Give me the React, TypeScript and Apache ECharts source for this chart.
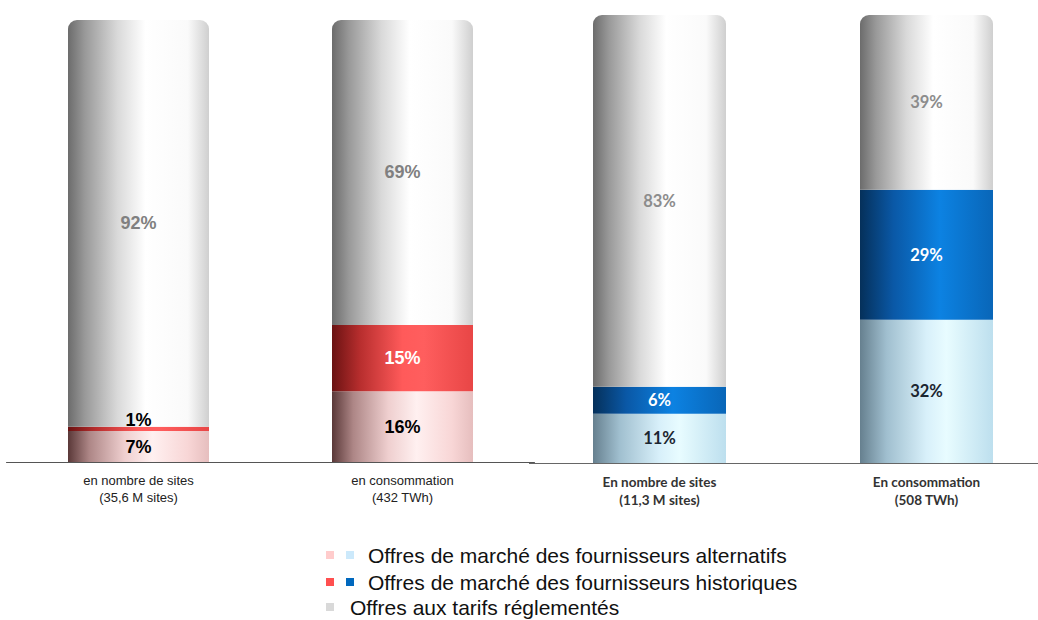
import React, { useEffect, useRef } from "react";
import * as echarts from "echarts";

const elecCategories = ["en nombre de sites\n(35,6 M sites)", "en consommation\n(432 TWh)"];
const gasCategories = ["En nombre de sites\n(11,3 M sites)", "En consommation\n(508 TWh)"];
const elecAlternatifs = [7, 16];
const elecHistoriques = [1, 15];
const elecReglementes = [92, 69];
const gasAlternatifs = [11, 32];
const gasHistoriques = [6, 29];
const gasReglementes = [83, 39];
const legendLabels = [
  "Offres de marché des fournisseurs alternatifs",
  "Offres de marché des fournisseurs historiques",
  "Offres aux tarifs réglementés",
];

const grad = (stops: [number, string][]) =>
  new echarts.graphic.LinearGradient(
    0, 0, 1, 0,
    stops.map(([offset, color]) => ({ offset, color }))
  );

const greyGrad = () =>
  grad([[0, "#6c6c6c"], [0.12, "#999999"], [0.35, "#d9d9d9"], [0.55, "#ffffff"], [0.85, "#fafafa"], [1, "#cfcfcf"]]);
const lightRedGrad = () =>
  grad([[0, "#5a3838"], [0.15, "#ad8686"], [0.4, "#efcfcf"], [0.6, "#fff0f0"], [0.85, "#f8d6d6"], [1, "#e6bebe"]]);
const redGrad = () =>
  grad([[0, "#6a1212"], [0.2, "#b82e2e"], [0.5, "#ff5a5a"], [0.65, "#ff5e5e"], [1, "#e84646"]]);
const darkBlueGrad = () =>
  grad([[0, "#05305a"], [0.25, "#0a58a6"], [0.6, "#0c82e2"], [1, "#0966b8"]]);
const lightBlueGrad = () =>
  grad([[0, "#66808f"], [0.2, "#a0bfcf"], [0.5, "#d8f0fa"], [0.65, "#e8fcff"], [1, "#bddfee"]]);

const leftLabel = (color: string) => ({
  show: true,
  position: "inside" as const,
  formatter: "{c}%",
  color,
  fontFamily: "Liberation Sans, Arial, sans-serif",
  fontWeight: "bold" as const,
  fontSize: 18,
});
const rightLabel = (color: string) => ({
  show: true,
  position: "inside" as const,
  formatter: "{c}%",
  color,
  fontFamily: "Lato, sans-serif",
  fontWeight: "bold" as const,
  fontSize: 16.5,
});

export default function App() {
  const ref = useRef<HTMLDivElement>(null);
  useEffect(() => {
    if (!ref.current) return;
    const chart = echarts.init(ref.current, null, { renderer: "svg" });

    const decor: any[] = [
      {
        type: "line",
        shape: { x1: 529, y1: 463.5, x2: 1038, y2: 463.5 },
        style: { stroke: "#666", lineWidth: 1 },
        z: -1,
      },
    ];
    const rowsY = [555, 582, 607];
    const rowColors = [["#ffcccc", "#cce9fb"], ["#ff4f4f", "#0068be"], ["#d9d9d9"]];
    rowsY.forEach((y, i) => {
      rowColors[i].forEach((c, j) => {
        decor.push({
          type: "rect",
          shape: { x: 326 + j * 20, y: y - 4, width: 8, height: 8 },
          style: { fill: c },
        });
      });
      decor.push({
        type: "text",
        x: i < 2 ? 368 : 350,
        y,
        style: {
          text: legendLabels[i],
          fill: "#111",
          font: "21px 'Liberation Sans', Arial, sans-serif",
          verticalAlign: "middle",
          align: "left",
        },
      });
    });

    const option: any = {
      animation: false,
      backgroundColor: "#ffffff",
      grid: [
        { left: 6.5, right: 503.5, top: 20, bottom: 158 },
        { left: 659.5, right: 111.5, top: 15, bottom: 157 },
      ],
      xAxis: [
        {
          type: "category",
          gridIndex: 0,
          data: elecCategories,
          axisLine: { show: true, lineStyle: { color: "#555", width: 1 } },
          axisTick: { show: false },
          axisLabel: {
            color: "#222",
            fontFamily: "Liberation Sans, Arial, sans-serif",
            fontSize: 13,
            lineHeight: 17,
            margin: 10,
          },
        },
        {
          type: "category",
          gridIndex: 1,
          boundaryGap: false,
          data: gasCategories,
          axisLine: { show: false },
          axisTick: { show: false },
          axisLabel: {
            color: "#333",
            fontFamily: "Lato, sans-serif",
            fontWeight: "bold",
            fontSize: 13.5,
            lineHeight: 18,
            margin: 10,
          },
        },
      ],
      yAxis: [
        { type: "value", gridIndex: 0, min: 0, max: 100, show: false },
        { type: "value", gridIndex: 1, min: 0, max: 100, show: false },
      ],
      series: [
        {
          name: "elec-alt",
          type: "bar",
          stack: "elec",
          xAxisIndex: 0,
          yAxisIndex: 0,
          barWidth: 141,
          data: elecAlternatifs,
          itemStyle: { color: lightRedGrad() },
          label: leftLabel("#000"),
        },
        {
          name: "elec-hist",
          type: "bar",
          stack: "elec",
          xAxisIndex: 0,
          yAxisIndex: 0,
          barWidth: 141,
          data: elecHistoriques.map((v, i) =>
            i === 0
              ? { value: v, label: { position: "top", distance: -2, color: "#000" } }
              : v
          ),
          itemStyle: { color: redGrad() },
          label: leftLabel("#fff"),
        },
        {
          name: "elec-reg",
          type: "bar",
          stack: "elec",
          xAxisIndex: 0,
          yAxisIndex: 0,
          barWidth: 141,
          data: elecReglementes,
          itemStyle: { color: greyGrad(), borderRadius: [9, 9, 0, 0] },
          label: leftLabel("#808080"),
        },
        {
          name: "gas-alt",
          type: "bar",
          stack: "gas",
          xAxisIndex: 1,
          yAxisIndex: 1,
          barWidth: 133,
          data: gasAlternatifs,
          itemStyle: { color: lightBlueGrad() },
          label: rightLabel("#1b2530"),
        },
        {
          name: "gas-hist",
          type: "bar",
          stack: "gas",
          xAxisIndex: 1,
          yAxisIndex: 1,
          barWidth: 133,
          data: gasHistoriques,
          itemStyle: { color: darkBlueGrad() },
          label: rightLabel("#ffffff"),
        },
        {
          name: "gas-reg",
          type: "bar",
          stack: "gas",
          xAxisIndex: 1,
          yAxisIndex: 1,
          barWidth: 133,
          data: gasReglementes,
          itemStyle: { color: greyGrad(), borderRadius: [9, 9, 0, 0] },
          label: rightLabel("#8c8c8c"),
        },
      ],
      graphic: decor,
    };
    chart.setOption(option);
    return () => chart.dispose();
  }, []);
  return (
    <div
      ref={ref}
      style={{ position: "fixed", left: 0, top: 0, width: 1038, height: 620 }}
    />
  );
}
